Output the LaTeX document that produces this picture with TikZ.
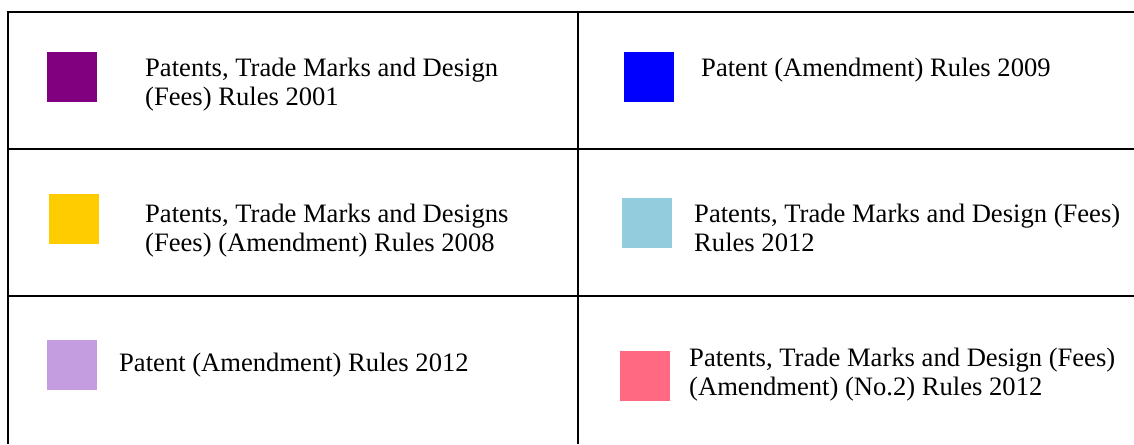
\documentclass[tikz,border=0pt]{standalone}
\usepackage{fontspec}
\setmainfont{Liberation Serif}
\definecolor{cPurple}{HTML}{800080}
\definecolor{cBlue}{HTML}{0000FF}
\definecolor{cGold}{HTML}{FFCC00}
\definecolor{cLightBlue}{HTML}{93CDDD}
\definecolor{cLavender}{HTML}{C49DE0}
\definecolor{cPink}{HTML}{FF6982}
\tikzset{
  swatch/.style={minimum width=50pt, minimum height=50pt, inner sep=0pt, draw=none},
  legtext/.style={anchor=base west, inner sep=0pt, align=left,
    font=\fontsize{26.6pt}{29pt}\selectfont},
  grid line/.style={line width=2.4pt, black}
}
\begin{document}
\begin{tikzpicture}[x=1pt, y=-1pt]
\useasboundingbox (0,0) rectangle (1134,444);
% table grid
\draw[grid line] (8,12) -- (1134,12);
\draw[grid line] (8,149) -- (1134,149);
\draw[grid line] (8,296) -- (1134,296);
\draw[grid line] (8,10.8) -- (8,444);
\draw[grid line] (578,10.8) -- (578,444);
% swatches
\node[swatch, fill=cPurple]    (s1) at (72,77) {};
\node[swatch, fill=cBlue]      (s2) at (649,77) {};
\node[swatch, fill=cGold]      (s3) at (74,219) {};
\node[swatch, fill=cLightBlue] (s4) at (647,223) {};
\node[swatch, fill=cLavender]  (s5) at (72,365) {};
\node[swatch, fill=cPink]      (s6) at (645,376) {};
% labels (base anchor of a two-line node is its last line)
\node[legtext] (t1) at (145,105) {Patents, Trade Marks and Design\\(Fees) Rules 2001};
\node[legtext] (t2) at (701,76) {Patent (Amendment) Rules 2009};
\node[legtext] (t3) at (145,251) {Patents, Trade Marks and Designs\\(Fees) (Amendment) Rules 2008};
\node[legtext] (t4) at (694,251) {Patents, Trade Marks and Design (Fees)\\Rules 2012};
\node[legtext] (t5) at (119,371) {Patent (Amendment) Rules 2012};
\node[legtext] (t6) at (689,395) {Patents, Trade Marks and Design (Fees)\\(Amendment) (No.2) Rules 2012};
\end{tikzpicture}
\end{document}
